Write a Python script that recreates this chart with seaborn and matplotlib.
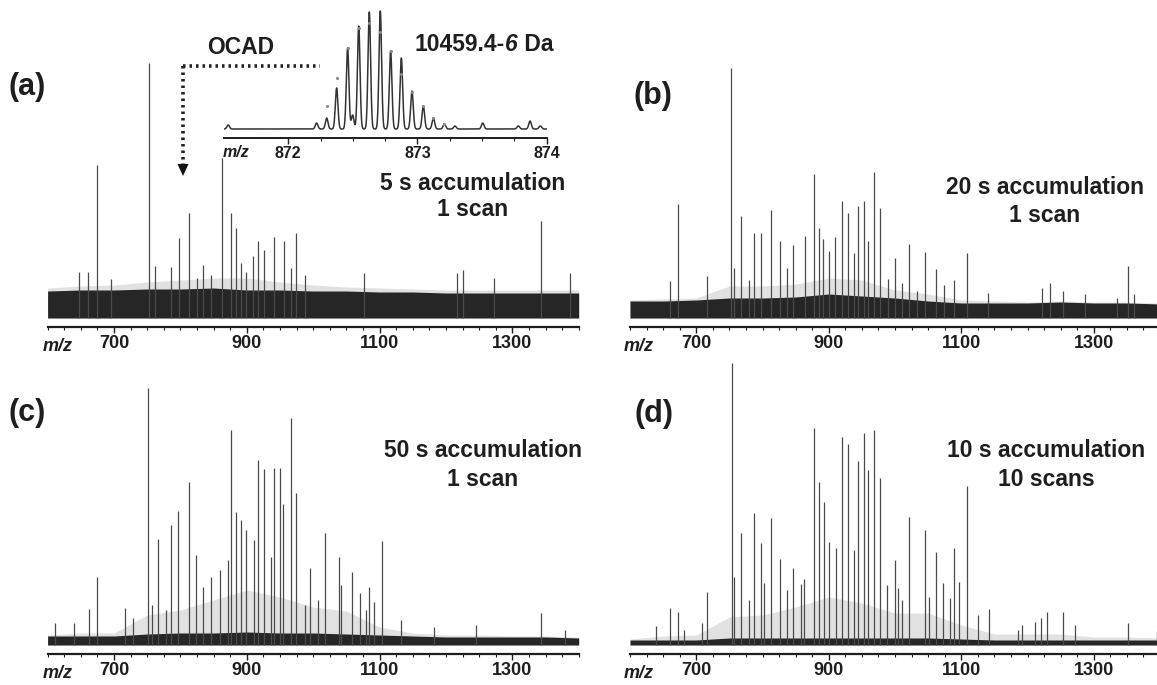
import numpy as np
import matplotlib
matplotlib.use("Agg")
import matplotlib.pyplot as plt
import seaborn as sns
from matplotlib.ticker import FixedLocator

# ---------------- data (intensities in arbitrary units) ----------------
noise_mz = [600, 650, 700, 750, 800, 850, 900, 950, 1000, 1050, 1100, 1150, 1200, 1250, 1300, 1350, 1400]

a_mz = [647, 661, 674, 695, 752.5, 762, 786, 798, 813, 825, 833.5, 845.5, 862.6, 876.6, 883.4, 891, 899, 909,
        917, 926.5, 941.5, 956, 966.5, 974, 987, 1076.6, 1217, 1226, 1273, 1343, 1387]
a_int = [46, 46, 153, 39, 255, 52, 51, 80, 105, 40, 53, 43, 160, 105, 90, 55, 46, 62,
         77, 68, 81, 77, 50, 85, 43, 45, 45, 48, 40, 97, 45]
a_noise = [27, 28, 28, 29, 29, 30, 28, 28, 27, 27, 26, 26, 25, 25, 25, 25, 25]
a_grass = [30, 32, 33, 36, 38, 40, 40, 36, 33, 31, 30, 29, 28, 28, 28, 28, 28]

b_mz = [660, 673, 716, 753, 757.5, 767, 779, 786.5, 798, 813, 826, 837, 846.6, 864, 878, 886, 892, 900, 910, 920,
        929, 938, 944, 953, 959, 969, 977, 990, 999.7, 1010, 1021.7, 1033, 1044.6, 1062.3, 1073.6, 1089.3,
        1108.6, 1141, 1221.5, 1234, 1253, 1287, 1335, 1351, 1360, 1396.6]
b_int = [37, 114, 42, 250, 50, 102, 38, 85, 85, 108, 77, 50, 73, 82, 144, 90, 79, 67, 81, 117,
         105, 65, 112, 117, 77, 146, 110, 39, 60, 35, 74, 27, 66, 49, 33, 38,
         65, 25, 30, 35, 27, 24, 20, 52, 24, 35]
b_noise = [17, 17, 18, 20, 20, 21, 24, 22, 20, 17, 15, 15, 15, 16, 15, 15, 14]
b_grass = [18, 19, 20, 32, 32, 34, 40, 38, 28, 24, 18, 17, 16, 17, 16, 16, 15]

c_mz = [611, 640, 662, 674, 716.6, 728.6, 751.7, 757.7, 766.8, 778, 785.8, 796.8, 812.5, 823.5, 834.5, 845.6,
        859.6, 871.7, 876.7, 883.7, 891.3, 898.3, 910.4, 917.4, 926.4, 936, 941, 950, 955, 966, 974.6, 988,
        995, 1008, 1017.8, 1038.9, 1042, 1058, 1070.5, 1079, 1084.5, 1091.6, 1104, 1133, 1182, 1246, 1342.6, 1380]
c_int = [22, 22, 36, 68, 37, 27, 257, 40, 106, 35, 120, 134, 163, 90, 58, 68,
         75, 85, 215, 133, 125, 115, 105, 185, 176, 88, 177, 177, 141, 227, 152, 40,
         77, 45, 112, 88, 60, 73, 52, 35, 58, 43, 104, 25, 18, 20, 32, 15]
c_noise = [9, 9, 9, 11, 12, 12, 13, 12, 12, 11, 10, 9, 8, 8, 8, 8, 7]
c_grass = [10, 12, 12, 30, 35, 45, 55, 48, 38, 34, 18, 12, 10, 10, 9, 9, 8]

d_mz = [639, 660, 673, 682, 709, 716, 753.4, 757, 767, 779, 786.5, 798, 803, 813, 826, 837, 846.6, 858, 862,
        877.6, 886, 892.4, 900.5, 911, 920, 929, 938.6, 943.8, 953.4, 958.5, 969, 977, 988.5, 999.7, 1005,
        1010, 1021.7, 1044.6, 1050.7, 1062.3, 1072.5, 1083.7, 1089.3, 1095.9, 1108.6, 1125, 1142, 1185,
        1191.7, 1211, 1220, 1229, 1253, 1271, 1351, 1396]
d_int = [19, 37, 33, 15, 22, 53, 282, 68, 112, 45, 132, 102, 62, 127, 86, 55, 77, 61, 66,
         217, 163, 143, 103, 97, 208, 201, 95, 184, 212, 175, 215, 167, 60, 85, 57,
         45, 128, 115, 48, 93, 62, 47, 97, 63, 159, 30, 36, 15,
         20, 23, 27, 33, 33, 20, 22, 14]
d_noise = [5, 5, 5, 7, 7, 7, 7, 7, 7, 7, 6, 5, 5, 5, 5, 5, 5]
d_grass = [6, 9, 10, 28, 30, 38, 48, 42, 32, 32, 20, 11, 11, 11, 8, 8, 7]

# inset: isotopic distribution (observed peaks and theoretical markers)
iso_mz = [871.535, 872.219, 872.297, 872.374, 872.459, 872.498, 872.545, 872.627, 872.712, 872.792,
          872.875, 872.957, 873.045, 873.123, 873.208, 873.29, 873.505, 873.78, 873.871, 873.95]
iso_int = [4, 6, 11, 41, 81, 14, 103, 117, 118, 78, 71, 38, 23, 11, 5, 3, 6, 3, 8, 3]
theo_mz = [872.297, 872.374, 872.459, 872.545, 872.627, 872.712, 872.792, 872.875, 872.957, 873.045,
           873.123, 873.208]
theo_int = [23, 51, 81, 101, 106, 97, 78, 55, 37, 23, 11, 5]

main_ticks = [700, 900, 1100, 1300]
inset_ticks = [872, 873, 874]

# ---------------- style ----------------
sns.set_theme(style="white")
plt.rcParams['font.family'] = ['Liberation Sans', 'DejaVu Sans']
plt.rcParams['font.weight'] = 'bold'

W, H = 1157, 685
fig = plt.figure(figsize=(W / 100, H / 100), dpi=100)
INK = '#1e1e1e'


def rect(x0, y0, x1, y1):
    return [x0 / W, 1 - y1 / H, (x1 - x0) / W, (y1 - y0) / H]


def style_axis(ax, majors, minors, lsize, lw=1.6):
    for s in ['left', 'right', 'top']:
        ax.spines[s].set_visible(False)
    ax.spines['bottom'].set_linewidth(lw)
    ax.spines['bottom'].set_color(INK)
    ax.set_yticks([])
    ax.xaxis.set_major_locator(FixedLocator(majors))
    ax.xaxis.set_minor_locator(FixedLocator(minors))
    ax.set_xticklabels([str(t) for t in majors], fontweight='bold')
    ax.tick_params(axis='x', which='major', direction='out', length=4, width=1.0, pad=2,
                   labelsize=lsize, colors=INK, bottom=True)
    ax.tick_params(axis='x', which='minor', direction='out', length=2.5, width=0.8, colors=INK, bottom=True)
    ax.patch.set_alpha(0)
    ax.grid(False)


minor_main = [m for m in range(600, 1401, 25) if m not in main_ticks]

panels = [
    (a_mz, a_int, a_noise, a_grass, (47.6, 0, 578.7, 327), 318),
    (b_mz, b_int, b_noise, b_grass, (630, 0, 1160, 327), 318),
    (c_mz, c_int, c_noise, c_grass, (47.6, 345, 578.7, 654), 645),
    (d_mz, d_int, d_noise, d_grass, (630, 345, 1160, 654), 645),
]

for mz, inten, noise, grass, (x0, y0, x1, y1), base in panels:
    ax = fig.add_axes(rect(x0, y0, x1, y1))
    ax.fill_between(noise_mz, 0, grass, color='#7a7a7a', alpha=0.22, lw=0)
    ax.vlines(mz, 0, inten, color='#4a4a4a', lw=0.9)
    ax.fill_between(noise_mz, 0, noise, color='#262626', lw=0)
    ax.set_xlim(600, 1400)
    ax.set_ylim(-(y1 - base), base - y0)
    style_axis(ax, main_ticks, minor_main, 13)

# inset
axi = fig.add_axes(rect(223.7, 0, 546.7, 138))
grid = np.linspace(871.5, 874.0, 3000)
prof = np.zeros_like(grid)
for c, h in zip(iso_mz, iso_int):
    prof += h * np.exp(-0.5 * ((grid - c) / 0.010) ** 2)
sns.lineplot(x=grid, y=prof, ax=axi, color='#333333', lw=1.1, estimator=None)
axi.scatter(theo_mz, theo_int, s=5, color='#8a8a8a', marker='o', lw=0, zorder=3)
axi.set_xlim(871.5, 874.0)
axi.set_ylim(-9, 129)
style_axis(axi, inset_ticks, [872.25, 872.5, 872.75, 873.25, 873.5, 873.75], 11.5, lw=1.4)

# overlay for annotations in pixel coordinates
ov = fig.add_axes([0, 0, 1, 1])
ov.set_xlim(0, W)
ov.set_ylim(H, 0)
ov.axis('off')
ov.patch.set_alpha(0)

dot = dict(ls=(0, (0.7, 1.1)), lw=2.6, color='#222222', solid_capstyle='butt')
ov.plot([183, 320], [66, 66], **dot)
ov.plot([183, 183], [66, 164], **dot)
ov.fill([177.5, 188.5, 183], [164, 164, 176], color='#111111', lw=0)

ov.text(241, 47, 'OCAD', fontsize=16.5, ha='center', va='center', color=INK)

t1 = ov.text(415, 44, '10459.4-', fontsize=16.5, ha='left', va='center', color=INK)
fig.canvas.draw()
r = fig.canvas.get_renderer()
xb = t1.get_window_extent(r).x1
t2 = ov.text(xb, 44, '6', fontsize=16.5, ha='left', va='center', style='italic', color=INK)
xb2 = t2.get_window_extent(r).x1
ov.text(xb2, 44, ' Da', fontsize=16.5, ha='left', va='center', color=INK)

for lab, (x, y) in zip(['(a)', '(b)', '(c)', '(d)'], [(27, 87), (653, 96), (27, 413), (654, 414)]):
    ov.text(x, y, lab, fontsize=22, ha='center', va='center', color=INK)

desc = [
    ('5 s accumulation', '1 scan', 473, 183, 209),
    ('20 s accumulation', '1 scan', 1045, 187, 215),
    ('50 s accumulation', '1 scan', 483, 450, 479),
    ('10 s accumulation', '10 scans', 1046, 450, 479),
]
for l1, l2, x, y1_, y2_ in desc:
    ov.text(x, y1_, l1, fontsize=16.5, ha='center', va='center', color=INK)
    ov.text(x, y2_, l2, fontsize=16.5, ha='center', va='center', color=INK)

for x, y in [(58, 346), (639, 346), (58, 673), (639, 673)]:
    ov.text(x, y, 'm/z', fontsize=13, style='italic', ha='center', va='center', color=INK)
ov.text(236, 152, 'm/z', fontsize=11.5, style='italic', ha='center', va='center', color=INK)

fig.savefig('out.png', dpi=100)
